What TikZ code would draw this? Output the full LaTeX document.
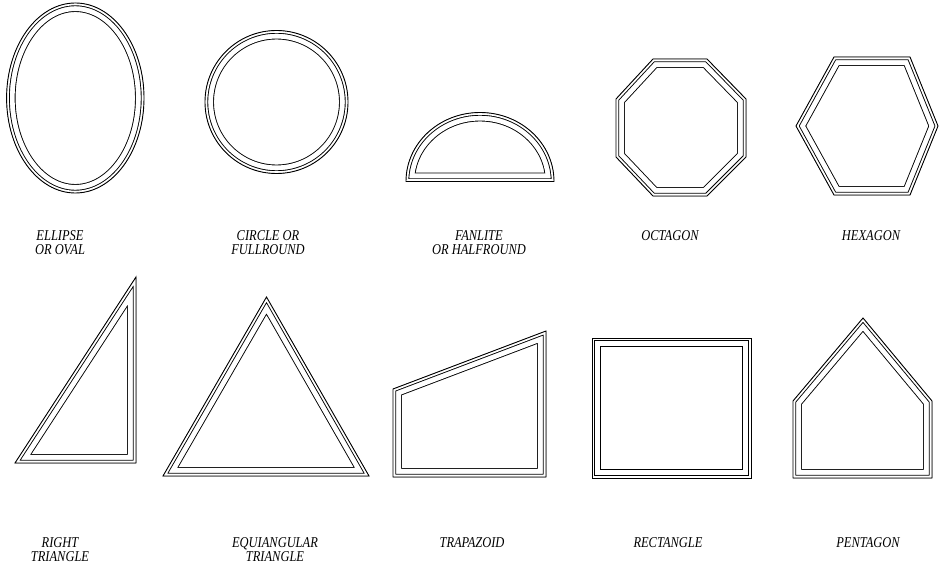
\documentclass[tikz,border=0pt]{standalone}
\usepackage{fontspec}
\setmainfont{Liberation Serif}
\newfontfamily\lblfont[FakeStretch=0.83]{Liberation Serif}
\newcommand{\wframe}[1]{%
  \begin{scope}
    \clip #1;
    \draw[line width=17.9pt] #1;
    \draw[white,line width=16.1pt] #1;
    \draw[line width=6.4pt] #1;
    \draw[white,line width=4.6pt] #1;
  \end{scope}
  \draw[line width=0.9pt] #1;}
\tikzset{shapelabel/.style={font=\lblfont\itshape\fontsize{15}{14}\selectfont,
  align=center, anchor=north, inner sep=0pt}}
\begin{document}
\begin{tikzpicture}[x=1pt,y=1pt,line join=miter]
\useasboundingbox (0,0) rectangle (940,-567);
% top row
\wframe{(75.3,-98) ellipse[x radius=68.7pt,y radius=95pt]}
\wframe{(276.5,-102) circle[radius=71.5pt]}
\wframe{(406,-181.5) arc[start angle=180,end angle=0,x radius=74pt,y radius=69pt] -- cycle}
\wframe{(653,-59) -- (707,-59) -- (746,-99) -- (746,-157) -- (707,-196) -- (653,-196) -- (616,-157) -- (616,-99) -- cycle}
\wframe{(834,-57) -- (910,-57) -- (938,-126) -- (910,-195) -- (834,-195) -- (796,-126) -- cycle}
% bottom row
\wframe{(136,-277) -- (136,-463) -- (15,-463) -- cycle}
\wframe{(266.5,-297) -- (369,-476) -- (163,-476) -- cycle}
\wframe{(393,-389) -- (546,-331) -- (546,-477) -- (393,-477) -- cycle}
\wframe{(592,-338) -- (751,-338) -- (751,-478) -- (592,-478) -- cycle}
\wframe{(863,-318) -- (932,-401) -- (932,-478) -- (793,-478) -- (793,-401) -- cycle}
% labels
\node[shapelabel] (l1) at (60,-230) {ELLIPSE\\OR OVAL};
\node[shapelabel] (l2) at (268,-230) {CIRCLE OR\\FULLROUND};
\node[shapelabel] (l3) at (479,-230) {FANLITE\\OR HALFROUND};
\node[shapelabel] (l4) at (670,-230) {OCTAGON};
\node[shapelabel] (l5) at (871,-230) {HEXAGON};
\node[shapelabel] (l6) at (60,-537) {RIGHT\\TRIANGLE};
\node[shapelabel] (l7) at (275,-537) {EQUIANGULAR\\TRIANGLE};
\node[shapelabel] (l8) at (472,-537) {TRAPAZOID};
\node[shapelabel] (l9) at (668,-537) {RECTANGLE};
\node[shapelabel] (l10) at (868,-537) {PENTAGON};
\end{tikzpicture}
\end{document}
